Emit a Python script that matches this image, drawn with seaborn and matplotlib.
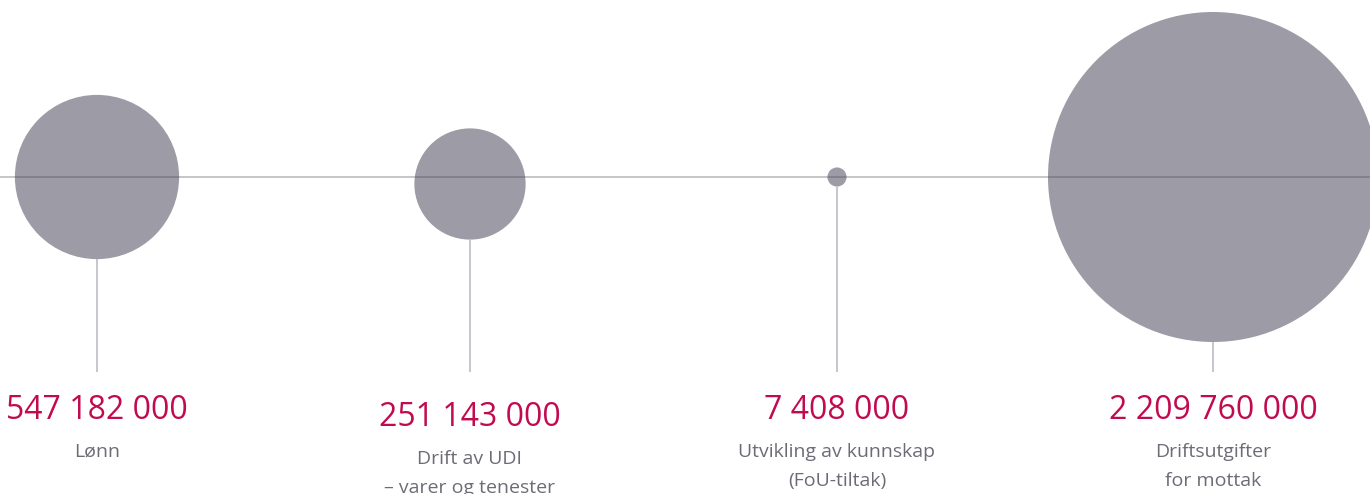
import numpy as np
import pandas as pd
import matplotlib
matplotlib.use("Agg")
import matplotlib.pyplot as plt
import seaborn as sns

# Budget posts (NOK)
categories = ["Lønn", "Drift av UDI\n– varer og tenester",
              "Utvikling av kunnskap\n(FoU-tiltak)", "Driftsutgifter\nfor mottak"]
values = [547182000, 251143000, 7408000, 2209760000]
value_labels = ["547 182 000", "251 143 000", "7 408 000", "2 209 760 000"]

# Layout (figure drawn in pixel-sized data units, baseline at y=0)
W, H, DPI = 1370, 494, 100
x_centres = [97, 470, 837, 1213]  # horizontal placement of each group
baseline_px = 177                 # pixel row of the horizontal axis line
max_radius_px = 165               # radius of the largest bubble
group_shift = [0, -7, 0, 0]       # vertical nudge of each group
stem_end = -195                   # where the drop lines stop
value_y = -242                    # baseline of the value labels
cat_y = -280                      # baseline of first category line
cat_spacing = 29

BUBBLE = "#9d9ba6"
AXIS_LINE = "#48484f"
STEM = "#b7b6be"
RED = "#c10a4f"
GREY = "#6d6c76"

sns.set_theme(style="white")
plt.rcParams["font.family"] = ["Open Sans", "DejaVu Sans"]

fig = plt.figure(figsize=(W / DPI, H / DPI), dpi=DPI)
ax = fig.add_axes([0, 0, 1, 1])
ax.set_xlim(0, W)
ax.set_ylim(-(H - baseline_px), baseline_px)
ax.set_axis_off()

vmax = max(values)
radii = [max_radius_px * np.sqrt(v / vmax) for v in values]
smax = (2 * max_radius_px * 72 / DPI) ** 2

df = pd.DataFrame({"pos": x_centres, "y": group_shift, "value": values})

sns.scatterplot(data=df, x="pos", y="y", size="value", sizes=(0, smax),
                size_norm=(0, vmax), color=BUBBLE, linewidth=0, alpha=1,
                legend=False, ax=ax, zorder=2)

# horizontal axis line drawn over the bubbles
ax.axhline(0, color=AXIS_LINE, alpha=0.4, lw=1.1, zorder=3)

for x, r, sh, lab, cat in zip(x_centres, radii, group_shift, value_labels, categories):
    ax.plot([x, x], [sh - r, stem_end], color=STEM, lw=1.1, zorder=1,
            solid_capstyle="butt")
    ax.text(x, value_y + sh, lab, ha="center", va="baseline",
            color=RED, fontsize=23)
    for j, line in enumerate(cat.split("\n")):
        ax.text(x, cat_y + sh - j * cat_spacing, line, ha="center",
                va="baseline", color=GREY, fontsize=14)

fig.savefig("out.png", dpi=DPI)
